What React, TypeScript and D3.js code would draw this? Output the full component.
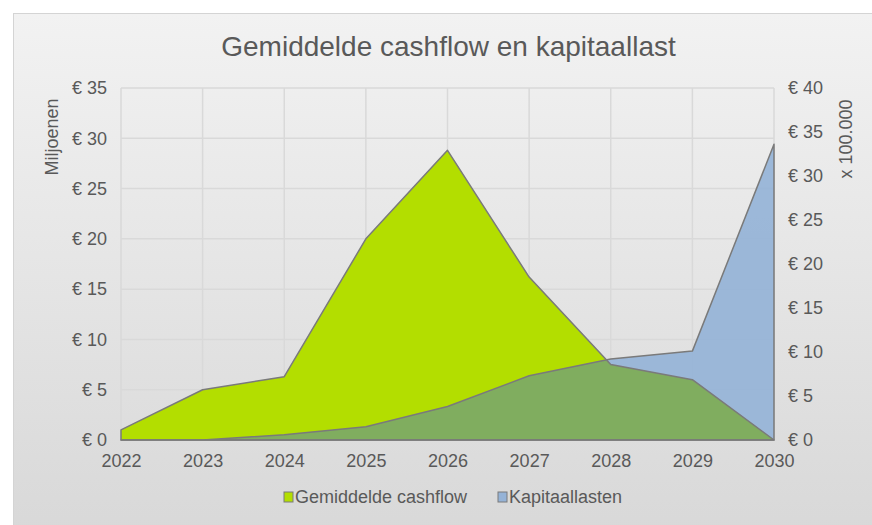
import React, { useEffect, useRef } from 'react';
import * as d3 from 'd3';

const years = [2022, 2023, 2024, 2025, 2026, 2027, 2028, 2029, 2030];
// left axis, miljoenen
const cashflow = [1.0, 5.0, 6.3, 20.0, 28.8, 16.2, 7.5, 6.0, 0];
// right axis, x 100.000
const kapitaallasten = [0, 0, 0.6, 1.5, 3.8, 7.3, 9.2, 10.1, 33.6];
const leftTicks = [0, 5, 10, 15, 20, 25, 30, 35];
const rightTicks = [0, 5, 10, 15, 20, 25, 30, 35, 40];

const seriesNames = ['Gemiddelde cashflow', 'Kapitaallasten'];
const seriesColors = ['#b3de00', '#95b3d7'];

const App: React.FC = () => {
  const svgRef = useRef<SVGSVGElement>(null);

  useEffect(() => {
    if (!svgRef.current) return;
    const width = 872;
    const height = 525;
    const svg = d3.select(svgRef.current);
    svg.selectAll('*').remove();
    svg.attr('width', width).attr('height', height);

    const font = 'Liberation Sans, Arial, sans-serif';
    const textColor = '#595959';

    // chart background with gradient
    const defs = svg.append('defs');
    const grad = defs.append('linearGradient')
      .attr('id', 'bg')
      .attr('x1', 0).attr('y1', 0).attr('x2', 0).attr('y2', 1);
    grad.append('stop').attr('offset', '0%').attr('stop-color', '#f2f2f2');
    grad.append('stop').attr('offset', '100%').attr('stop-color', '#d8d8d8');

    svg.append('rect')
      .attr('x', 13.5).attr('y', 13.5)
      .attr('width', width).attr('height', height)
      .attr('fill', 'url(#bg)')
      .attr('stroke', '#d4d4d4');

    const margin = { top: 88, right: 98, bottom: 85, left: 121 };
    const x = d3.scaleLinear()
      .domain([years[0], years[years.length - 1]])
      .range([margin.left, width - margin.right]);
    const yLeft = d3.scaleLinear().domain([0, 35]).range([height - margin.bottom, margin.top]);
    const yRight = d3.scaleLinear().domain([0, 40]).range([height - margin.bottom, margin.top]);

    // gridlines
    const grid = svg.append('g').attr('stroke', '#d9d9d9').attr('stroke-width', 1.5);
    grid.selectAll('line.h')
      .data(leftTicks)
      .enter()
      .append('line')
      .attr('x1', x.range()[0]).attr('x2', x.range()[1])
      .attr('y1', d => yLeft(d)).attr('y2', d => yLeft(d));
    grid.selectAll('line.v')
      .data(years)
      .enter()
      .append('line')
      .attr('x1', d => x(d)).attr('x2', d => x(d))
      .attr('y1', yLeft.range()[0]).attr('y2', yLeft.range()[1]);

    const idx = years.map((_, i) => i);
    const greenArea = d3.area<number>()
      .x(i => x(years[i]))
      .y0(yLeft(0))
      .y1(i => yLeft(cashflow[i]));
    const blueArea = d3.area<number>()
      .x(i => x(years[i]))
      .y0(yRight(0))
      .y1(i => yRight(kapitaallasten[i]));

    defs.append('clipPath').attr('id', 'greenClip')
      .append('path').attr('d', greenArea(idx) || '');

    svg.append('path')
      .attr('d', greenArea(idx) || '')
      .attr('fill', seriesColors[0]);
    svg.append('path')
      .attr('d', blueArea(idx) || '')
      .attr('fill', seriesColors[1])
      .attr('fill-opacity', 0.92);
    // overlap of both areas
    svg.append('path')
      .attr('d', blueArea(idx) || '')
      .attr('clip-path', 'url(#greenClip)')
      .attr('fill', '#80ad5f');

    svg.append('path')
      .attr('d', greenArea(idx) || '')
      .attr('fill', 'none')
      .attr('stroke', '#7a7a7a')
      .attr('stroke-width', 1.5)
      .attr('stroke-linejoin', 'round');
    svg.append('path')
      .attr('d', blueArea(idx) || '')
      .attr('fill', 'none')
      .attr('stroke', '#7a7a7a')
      .attr('stroke-width', 1.5)
      .attr('stroke-linejoin', 'round');

    // axes labels
    const leftAxis = svg.append('g')
      .attr('transform', `translate(${margin.left - 14},0)`)
      .call(d3.axisLeft(yLeft).tickValues(leftTicks).tickSize(0).tickPadding(0)
        .tickFormat(d => `€ ${d}`));
    const rightAxis = svg.append('g')
      .attr('transform', `translate(${width - margin.right + 14},0)`)
      .call(d3.axisRight(yRight).tickValues(rightTicks).tickSize(0).tickPadding(0)
        .tickFormat(d => `€ ${d}`));
    const bottomAxis = svg.append('g')
      .attr('transform', `translate(0,${height - margin.bottom + 14})`)
      .call(d3.axisBottom(x).tickValues(years).tickSize(0).tickPadding(0)
        .tickFormat(d => String(d)));
    [leftAxis, rightAxis, bottomAxis].forEach(g => {
      g.select('.domain').remove();
      g.selectAll('text')
        .attr('fill', textColor)
        .attr('font-family', font)
        .attr('font-size', 18);
    });

    svg.append('text')
      .attr('transform', `translate(58,137) rotate(-90)`)
      .attr('text-anchor', 'middle')
      .attr('fill', textColor)
      .attr('font-family', font)
      .attr('font-size', 18)
      .text('Miljoenen');
    svg.append('text')
      .attr('transform', `translate(852,139) rotate(-90)`)
      .attr('text-anchor', 'middle')
      .attr('fill', textColor)
      .attr('font-family', font)
      .attr('font-size', 18)
      .text('x 100.000');

    // title
    svg.append('text')
      .attr('x', (x.range()[0] + x.range()[1]) / 2 + 1)
      .attr('y', 56)
      .attr('text-anchor', 'middle')
      .attr('fill', textColor)
      .attr('font-family', font)
      .attr('font-size', 28)
      .text('Gemiddelde cashflow en kapitaallast');

    // legend
    const legendX = [284, 498];
    const legend = svg.append('g');
    seriesNames.forEach((name, i) => {
      legend.append('rect')
        .attr('x', legendX[i]).attr('y', 492)
        .attr('width', 9).attr('height', 10)
        .attr('fill', seriesColors[i])
        .attr('stroke', '#7a7a7a')
        .attr('stroke-width', 1);
      legend.append('text')
        .attr('x', legendX[i] + 11)
        .attr('y', 503)
        .attr('fill', textColor)
        .attr('font-family', font)
        .attr('font-size', 18)
        .text(name);
    });
  }, []);

  return (
    <div style={{ position: 'absolute', left: 0, top: 0 }}>
      <svg ref={svgRef} style={{ display: 'block' }}></svg>
    </div>
  );
};

export default App;
